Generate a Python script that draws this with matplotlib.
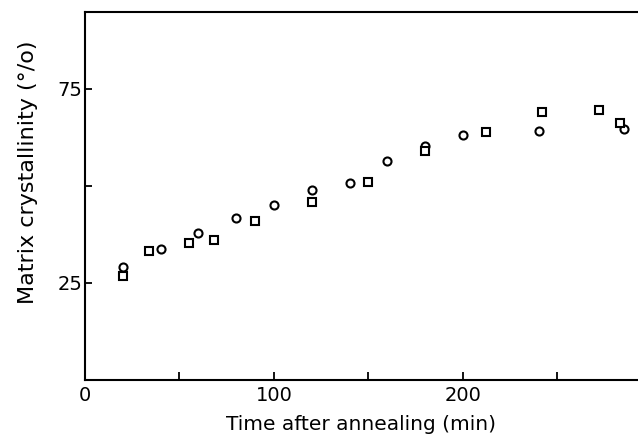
import matplotlib
matplotlib.use("Agg")
import matplotlib.pyplot as plt
from matplotlib.ticker import FixedLocator

plt.rcParams['font.family'] = ['DejaVu Sans']

# Data
circle_x = [20, 40, 60, 80, 100, 120, 140, 160, 180, 200, 240, 285]
circle_y = [29.1, 33.7, 37.9, 41.8, 45.0, 48.9, 50.8, 56.4, 60.3, 63.1, 64.1, 64.7]
square_x = [20, 34, 55, 68, 90, 120, 150, 180, 212, 242, 272, 283]
square_y = [26.8, 33.2, 35.2, 36.0, 41.0, 45.7, 51.1, 58.9, 63.9, 69.1, 69.6, 66.1]

x_major = [0, 100, 200]
x_minor = [50, 150, 250]
y_major = [25, 75]
y_minor = [50]

fig = plt.figure(figsize=(6.38, 4.36), dpi=100)
ax = fig.add_axes([85/638, 1 - 379.5/436, 1 - 85/638, (379.5 - 12.3)/436])

ax.plot(circle_x, circle_y, linestyle='none', marker='o', markersize=5.8,
        markerfacecolor='white', markeredgecolor='black', markeredgewidth=1.5)
ax.plot(square_x, square_y, linestyle='none', marker='s', markersize=5.2,
        markerfacecolor='white', markeredgecolor='black', markeredgewidth=1.5)

ax.set_xlim(0, 292.6)
ax.set_ylim(0, 94.8)

ax.xaxis.set_major_locator(FixedLocator(x_major))
ax.xaxis.set_minor_locator(FixedLocator(x_minor))
ax.yaxis.set_major_locator(FixedLocator(y_major))
ax.yaxis.set_minor_locator(FixedLocator(y_minor))

ax.tick_params(axis='both', which='both', direction='in', width=1.3, color='black')
ax.tick_params(axis='x', which='both', length=6, labelsize=14, pad=5)
ax.tick_params(axis='y', which='both', length=5, labelsize=14, pad=2)

for side in ['left', 'bottom', 'top']:
    ax.spines[side].set_linewidth(1.5)
ax.spines['right'].set_visible(False)

ax.set_xlabel('Time after annealing (min)', fontsize=14.5, labelpad=7)
ax.set_ylabel('Matrix crystallinity (°/o)', fontsize=16)
ax.yaxis.set_label_coords(-0.085, 0.565)

fig.savefig('out.png', dpi=100)
